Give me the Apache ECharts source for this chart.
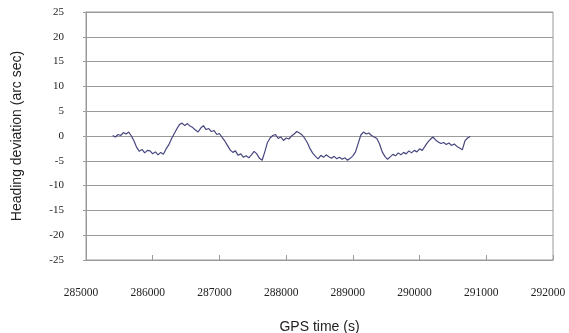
<!DOCTYPE html>
<html>
<head>
<meta charset="utf-8">
<script src="https://cdn.jsdelivr.net/npm/echarts@6/dist/echarts.min.js"></script>
<style>html,body{margin:0;padding:0;background:#fff;}#c{width:569px;height:333px;}</style>
</head>
<body>
<div id="c"></div>
<script>
const times = [285400,285440,285480,285520,285560,285600,285640,285680,285720,285760,285800,285840,285880,285920,285960,286000,286040,286080,286120,286160,286200,286240,286280,286320,286360,286400,286440,286480,286520,286560,286600,286640,286680,286720,286760,286800,286840,286880,286920,286960,287000,287040,287080,287120,287160,287200,287240,287280,287320,287360,287400,287440,287480,287520,287560,287600,287640,287680,287720,287760,287800,287840,287880,287920,287960,288000,288040,288080,288120,288160,288200,288240,288280,288320,288360,288400,288440,288480,288520,288560,288600,288640,288680,288720,288760,288800,288840,288880,288920,288960,289000,289040,289080,289120,289160,289200,289240,289280,289320,289360,289400,289440,289480,289520,289560,289600,289640,289680,289720,289760,289800,289840,289880,289920,289960,290000,290040,290080,290120,290160,290200,290240,290280,290320,290360,290400,290440,290480,290520,290560,290600,290640,290680,290720,290760];
const deviation = [0.1,-0.2,0.3,0.1,0.7,0.4,0.8,0.0,-1.0,-2.3,-3.1,-2.7,-3.4,-2.9,-3.0,-3.6,-3.2,-3.8,-3.3,-3.7,-2.6,-1.8,-0.6,0.4,1.4,2.3,2.6,2.1,2.5,2.0,1.7,1.2,0.8,1.6,2.1,1.3,1.5,0.9,1.1,0.3,0.5,-0.3,-1.0,-1.9,-2.8,-3.3,-3.0,-3.9,-3.6,-4.3,-4.0,-4.4,-3.8,-3.1,-3.6,-4.5,-4.9,-3.2,-1.3,-0.4,0.1,0.3,-0.5,-0.2,-0.9,-0.4,-0.6,0.0,0.4,0.9,0.6,0.2,-0.5,-1.4,-2.6,-3.5,-4.1,-4.6,-3.9,-4.3,-3.8,-4.2,-4.5,-4.1,-4.6,-4.3,-4.7,-4.4,-4.9,-4.5,-4.0,-3.2,-1.5,0.2,0.8,0.4,0.6,0.1,-0.2,-0.5,-1.6,-3.2,-4.1,-4.7,-4.2,-3.7,-4.0,-3.4,-3.8,-3.3,-3.6,-3.0,-3.4,-2.9,-3.2,-2.6,-2.9,-2.1,-1.3,-0.7,-0.2,-0.8,-1.2,-1.5,-1.3,-1.7,-1.4,-1.9,-1.6,-2.1,-2.4,-2.8,-1.0,-0.4,-0.1];
const xMin = 285000, xMax = 292000, xStep = 1000;
const yMin = -25, yMax = 25, yStep = 5;
const xTitle = 'GPS time (s)';
const yTitle = 'Heading deviation (arc sec)';

const chart = echarts.init(document.getElementById('c'), null, {renderer: 'canvas'});
chart.setOption({
  animation: false,
  backgroundColor: '#fff',
  grid: {left: 86, right: 16, top: 12, bottom: 73, containLabel: false, outerBoundsMode: 'none', show: true, borderColor: '#9a9a9a', borderWidth: 1, backgroundColor: 'transparent'},
  xAxis: {
    type: 'value', min: xMin, max: xMax, interval: xStep,
    name: xTitle, nameLocation: 'middle', nameGap: 60,
    nameTextStyle: {fontFamily: 'Liberation Sans', fontSize: 14, color: '#222'},
    axisLine: {show: true, onZero: false, lineStyle: {color: '#9a9a9a', width: 1}},
    axisTick: {show: true, inside: true, length: 5, lineStyle: {color: '#9a9a9a'}},
    axisLabel: {margin: 27, fontFamily: 'Liberation Serif', fontSize: 11.5, color: '#222', padding: [0, 10, 0, 0], formatter: v => String(v)},
    splitLine: {show: false}
  },
  yAxis: {
    type: 'value', min: yMin, max: yMax, interval: yStep,
    name: yTitle, nameLocation: 'middle', nameGap: 62, nameRotate: 90,
    nameTextStyle: {fontFamily: 'Liberation Sans', fontSize: 14, color: '#222'},
    axisLine: {show: true, lineStyle: {color: '#9a9a9a', width: 1}},
    axisTick: {show: true, inside: false, length: 3, lineStyle: {color: '#9a9a9a'}},
    axisLabel: {margin: 22, fontFamily: 'Liberation Serif', fontSize: 11, color: '#222', formatter: v => String(v)},
    splitLine: {show: true, lineStyle: {color: '#9a9a9a', width: 1}}
  },
  series: [{
    type: 'line',
    data: times.map((t, i) => [t, deviation[i]]),
    showSymbol: false,
    lineStyle: {color: '#46467e', width: 1.2},
    itemStyle: {color: '#46467e'}
  }]
});
</script>
</body>
</html>
